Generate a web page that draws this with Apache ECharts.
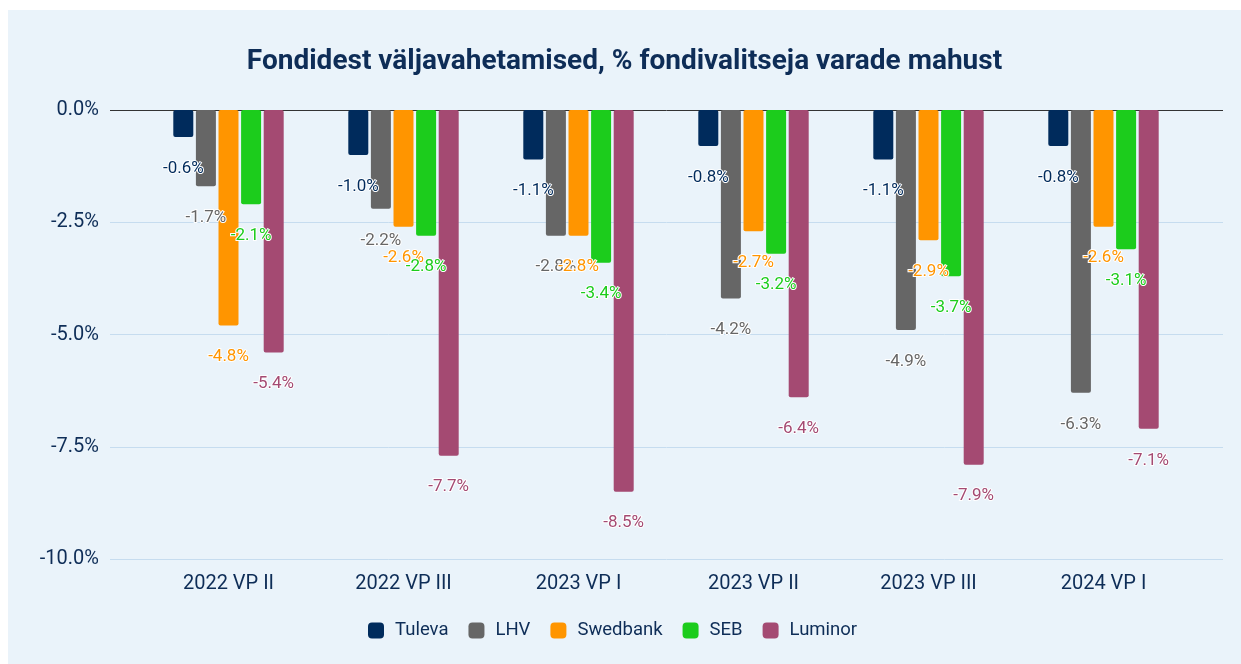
<!DOCTYPE html>
<html>
<head>
<meta charset="utf-8">
<script src="https://cdn.jsdelivr.net/npm/echarts@6/dist/echarts.min.js"></script>
<style>
  html, body { margin: 0; padding: 0; background: #ffffff; }
  #chart {
    position: absolute;
    left: 8px;
    top: 10px;
    width: 1233px;
    height: 654px;
    background: #eaf3fa;
  }
</style>
</head>
<body>
<div id="chart"></div>
<script>
// andmed
const categories = ['2022 VP II', '2022 VP III', '2023 VP I', '2023 VP II', '2023 VP III', '2024 VP I']
const tuleva = [-0.6, -1.0, -1.1, -0.8, -1.1, -0.8]
const lhv = [-1.7, -2.2, -2.8, -4.2, -4.9, -6.3]
const swedbank = [-4.8, -2.6, -2.8, -2.7, -2.9, -2.6]
const seb = [-2.1, -2.8, -3.4, -3.2, -3.7, -3.1]
const luminor = [-5.4, -7.7, -8.5, -6.4, -7.9, -7.1]
const yTicks = [0, -2.5, -5, -7.5, -10]

const seriesDefs = [
  { name: 'Tuleva', data: tuleva, color: '#002b5c' },
  { name: 'LHV', data: lhv, color: '#666666' },
  { name: 'Swedbank', data: swedbank, color: '#ff9500' },
  { name: 'SEB', data: seb, color: '#1ccc1c' },
  { name: 'Luminor', data: luminor, color: '#a44a72' }
]

const chart = echarts.init(document.getElementById('chart'))
const textColor = '#0e2d57'

const option = {
  animation: false,
  title: {
    text: 'Fondidest väljavahetamised, % fondivalitseja varade mahust',
    left: 'center',
    top: 33,
    textStyle: {
      fontFamily: 'Roboto',
      fontSize: 28,
      fontWeight: 'bold',
      color: '#0e2d57'
    }
  },
  legend: {
    top: 606,
    left: 355,
    itemWidth: 16,
    itemHeight: 16,
    itemGap: 20,
    icon: 'roundRect',
    textStyle: { fontFamily: 'Roboto', fontSize: 18.5, color: textColor, padding: [0, 0, 0, 6] },
    data: seriesDefs.map(s => s.name)
  },
  grid: [
    { left: 102, right: 18, top: 100, bottom: 105 },
    { left: 133, right: 50, top: 100, bottom: 105 }
  ],
  xAxis: [
    {
      gridIndex: 0,
      type: 'category',
      data: [''],
      axisLine: { show: false },
      axisTick: { show: false },
      axisLabel: { show: false }
    },
    {
      gridIndex: 1,
      type: 'category',
      data: categories,
      axisLine: { show: false },
      axisTick: { show: false },
      axisLabel: { fontFamily: 'Roboto', fontSize: 20, color: textColor, margin: 15 }
    }
  ],
  yAxis: [
    {
      gridIndex: 0,
      type: 'value',
      min: -10,
      max: 0,
      interval: 2.5,
      axisLine: { show: false },
      axisTick: { show: false },
      axisLabel: {
        fontFamily: 'Roboto',
        fontSize: 20,
        color: textColor,
        margin: 11,
        formatter: v => (yTicks.includes(v) ? v.toFixed(1) + '%' : '')
      },
      splitLine: {
        lineStyle: {
          color: ['#c6dcef', '#c6dcef', '#c6dcef', '#c6dcef', '#333333'],
          width: 1
        }
      }
    },
    {
      gridIndex: 1,
      type: 'value',
      min: -10,
      max: 0,
      interval: 2.5,
      show: false,
      splitLine: { show: false }
    }
  ],
  series: seriesDefs.map(s => ({
    name: s.name,
    type: 'bar',
    xAxisIndex: 1,
    yAxisIndex: 1,
    data: s.data,
    barWidth: 20,
    barGap: '13%',
    itemStyle: { color: s.color, borderRadius: 2 },
    label: {
      show: true,
      position: 'bottom',
      distance: 23,
      fontFamily: 'Roboto',
      fontSize: 17,
      color: s.color,
      textBorderColor: '#ffffff',
      textBorderWidth: 2,
      formatter: p => p.value.toFixed(1) + '%'
    }
  }))
}

chart.setOption(option)
window.addEventListener('resize', () => chart.resize())
</script>
</body>
</html>
